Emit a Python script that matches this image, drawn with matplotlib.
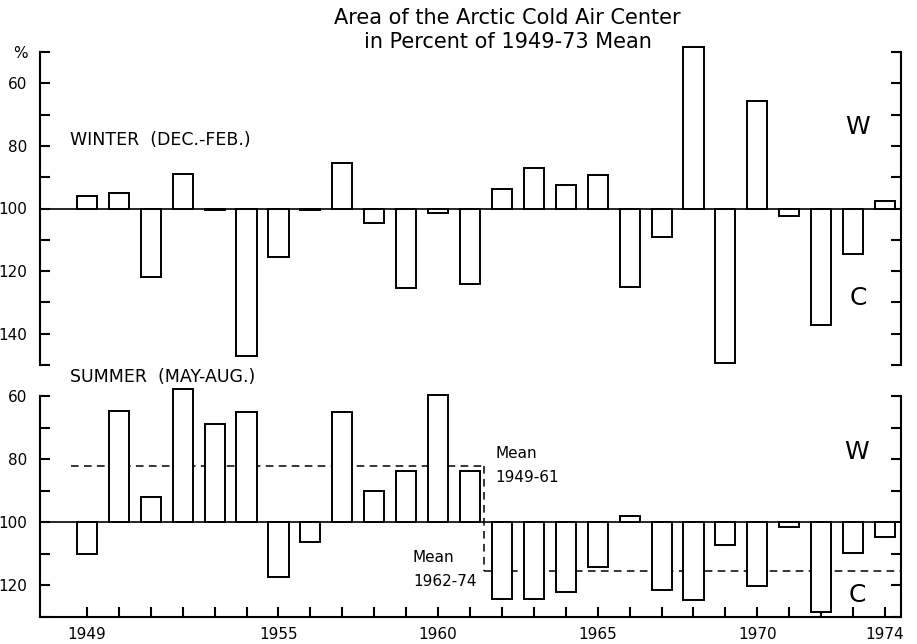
import matplotlib
matplotlib.use('Agg')
import matplotlib.pyplot as plt
from matplotlib.ticker import FixedLocator, FixedFormatter

# ---------------- data ----------------
years = list(range(1949, 1975))
winter = [96, 95, 122, 89, 100.4, 147, 115.4, 100.6, 85.4, 104.7, 125.3, 101.5,
          124.2, 93.7, 87.2, 92.5, 89.4, 125.1, 109, 48.3, 149.3, 65.5, 102.5,
          137.1, 114.5, 97.5]
summer = [110, 64.8, 91.9, 57.8, 69, 65.1, 117.3, 106.3, 65, 90, 83.7, 59.6,
          83.7, 124.4, 124.4, 122, 114.3, 98, 121.4, 124.6, 107.3, 120.3, 101.5,
          128.3, 109.7, 104.7]
mean_1949_61 = 82.1
mean_1962_74 = 115.3
year_ticklabels = ['1949', '1955', '1960', '1965', '1970', '1974']
top_yticks = [50, 60, 70, 80, 90, 100, 110, 120, 130, 140, 150]
top_ylabels = ['%', '60', '', '80', '', '100', '', '120', '', '140', '']
bot_yticks = [60, 70, 80, 90, 100, 110, 120, 130]
bot_ylabels = ['60', '', '80', '', '100', '', '120', '']

W, H = 917, 644
fig = plt.figure(figsize=(W / 100, H / 100), dpi=100)
plt.rcParams['font.family'] = ['DejaVu Sans']

def fx(x):
    return x / W

def fy(y):
    return 1 - y / H

XL = (1947.53, 1974.50)
BW = 0.63
LW = 1.5

ax1 = fig.add_axes([fx(40), fy(365), fx(901) - fx(40), fy(52) - fy(365)])
ax2 = fig.add_axes([fx(40), fy(617), fx(901) - fx(40), fy(396) - fy(617)])

# ---- top panel (winter)
ax1.bar(years, [v - 100 for v in winter], bottom=100, width=BW, color='white',
        edgecolor='black', linewidth=1.4, zorder=3, clip_on=False)
ax1.axhline(100, color='black', lw=1.2, zorder=2)
ax1.set_xlim(*XL)
ax1.set_ylim(150, 50)
for s in ['top', 'bottom']:
    ax1.spines[s].set_visible(False)
for s in ['left', 'right']:
    ax1.spines[s].set_linewidth(LW)
ax1.yaxis.set_major_locator(FixedLocator(top_yticks))
ax1.yaxis.set_major_formatter(FixedFormatter(top_ylabels))
ax1.tick_params(axis='y', direction='in', length=7, width=LW, left=True,
                right=True, labelsize=11, pad=9)
ax1.tick_params(axis='x', bottom=False, labelbottom=False)

# ---- bottom panel (summer)
ax2.plot([1948.49, 1961.45], [mean_1949_61, mean_1949_61], color='black',
         lw=1.1, ls=(0, (5, 3.5)), zorder=1)
ax2.plot([1961.45, 1961.45], [mean_1949_61, mean_1962_74], color='black',
         lw=1.1, ls=(0, (5, 3.5)), zorder=1)
ax2.plot([1961.45, XL[1]], [mean_1962_74, mean_1962_74], color='black',
         lw=1.1, ls=(0, (5, 3.5)), zorder=1)
ax2.bar(years, [v - 100 for v in summer], bottom=100, width=BW, color='white',
        edgecolor='black', linewidth=1.4, zorder=3, clip_on=False)
ax2.axhline(100, color='black', lw=1.2, zorder=2)
ax2.set_xlim(*XL)
ax2.set_ylim(130, 60)
ax2.spines['top'].set_visible(False)
for s in ['left', 'right', 'bottom']:
    ax2.spines[s].set_linewidth(LW)
ax2.yaxis.set_major_locator(FixedLocator(bot_yticks))
ax2.yaxis.set_major_formatter(FixedFormatter(bot_ylabels))
ax2.tick_params(axis='y', direction='in', length=7, width=LW, left=True,
                right=True, labelsize=11, pad=9)
ax2.xaxis.set_major_locator(FixedLocator(years))
ax2.xaxis.set_major_formatter(FixedFormatter(
    [str(y) if str(y) in year_ticklabels else '' for y in years]))
ax2.tick_params(axis='x', direction='in', length=7, width=LW, labelsize=11, pad=7)

# ---- texts
fig.text(fx(507), fy(18), 'Area of the Arctic Cold Air Center', ha='center',
         va='center', fontsize=15)
fig.text(fx(508), fy(42), 'in Percent of 1949-73 Mean', ha='center',
         va='center', fontsize=15)
fig.text(fx(70), fy(140), 'WINTER  (DEC.-FEB.)', ha='left', va='center', fontsize=12.5)
fig.text(fx(70), fy(377), 'SUMMER  (MAY-AUG.)', ha='left', va='center', fontsize=12.5)
for (x, y, t) in [(858, 127, 'W'), (858, 298, 'C'), (857, 452, 'W'), (857, 595, 'C')]:
    fig.text(fx(x), fy(y), t, ha='center', va='center', fontsize=18)
fig.text(fx(495), fy(453), 'Mean', ha='left', va='center', fontsize=11)
fig.text(fx(495), fy(477), '1949-61', ha='left', va='center', fontsize=11)
fig.text(fx(413), fy(558), 'Mean', ha='left', va='center', fontsize=11)
fig.text(fx(413), fy(582), '1962-74', ha='left', va='center', fontsize=11)

fig.savefig('out.png', dpi=100)
